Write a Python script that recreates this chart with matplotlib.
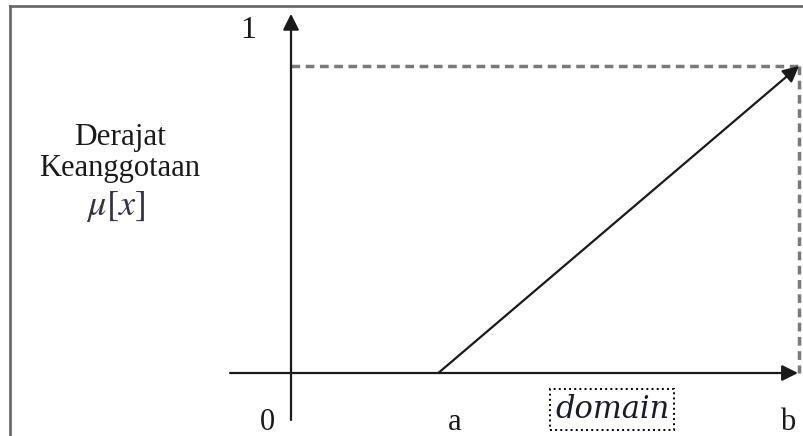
import matplotlib.pyplot as plt
from matplotlib.lines import Line2D

# Fuzzy membership: linear rise from a to b
a = 0.29
b = 1.0
mu_x = [a, b]
mu_y = [0.0, 1.0]

tick_labels = ['0', 'a', 'b']
tick_pos = [0.0, a, b]
top_label = '1'
ylabel_lines = ['Derajat', 'Keanggotaan']
ylabel_math = r'$\mu[x]$'
xlabel = 'domain'

# pixel layout of the original picture
W, H = 804, 436
ox, oy = 291, 373      # origin in pixels
bx, y1 = 799, 66       # pixel of x=b and y=1
sx = (bx - ox) / b
sy = (oy - y1) / 1.0

fig = plt.figure(figsize=(W / 100, H / 100), dpi=100)
ax = fig.add_axes([0, 0, 1, 1])
ax.set_xlim(-ox / sx, (W - ox) / sx)
ax.set_ylim(-(H - oy) / sy, oy / sy)
ax.axis('off')

ink = '#1a1a1a'

# outer frame (left and top edges only visible)
fig.add_artist(Line2D([10 / W, 10 / W], [0, 1 - 6 / H], transform=fig.transFigure, color='#6a6a6a', lw=2))
fig.add_artist(Line2D([10 / W, 1], [1 - 6 / H, 1 - 6 / H], transform=fig.transFigure, color='#6a6a6a', lw=2))

# axes with arrows
arr = dict(arrowstyle='-|>', color=ink, lw=1.6, mutation_scale=24, shrinkA=0, shrinkB=0)
ax.annotate('', xy=(0.998, 0), xytext=(-0.12, 0), arrowprops=arr)
ax.annotate('', xy=(0, 1.17), xytext=(0, -0.153), arrowprops=arr)

# dashed guides at mu=1 and x=b
ax.plot([0, b], [1, 1], color='#7a7a7a', lw=2.5, ls=(0, (2.5, 1.6)))
ax.plot([b, b], [1, 0], color='#7a7a7a', lw=2.5, ls=(0, (2.5, 1.6)))

# membership line
ax.annotate('', xy=(mu_x[1], mu_y[1]), xytext=(mu_x[0], mu_y[0]), arrowprops=arr)

serif = 'Liberation Serif'
offsets = [-0.047, 0.032, -0.022]
for lab, xv, dx in zip(tick_labels, tick_pos, offsets):
    ax.text(xv + dx, -(430 - oy) / sy, lab, fontsize=22, family=serif, color=ink,
            ha='center', va='baseline')
ax.text(-0.085, (oy - 38) / sy, top_label, fontsize=23, family=serif, color=ink, ha='center', va='baseline')

ax.text(-0.337, (oy - 145) / sy, ylabel_lines[0], fontsize=22.5, family=serif, color=ink, ha='center', va='baseline')
ax.text(-0.337, (oy - 176) / sy, ylabel_lines[1], fontsize=22, family=serif, color=ink, ha='center', va='baseline')
ax.text(-0.345, (oy - 206) / sy, ylabel_math, fontsize=26, color='#333344', ha='center', va='center',
        math_fontfamily='stix')

ax.text(0.632, -0.12, xlabel, fontsize=22, family='DejaVu Serif', style='italic', color='#1a1a2a',
        ha='center', va='center',
        bbox=dict(boxstyle='square,pad=0.16', fc='none', ec='black', ls=':', lw=1.4))

fig.savefig('out.png', dpi=100)
